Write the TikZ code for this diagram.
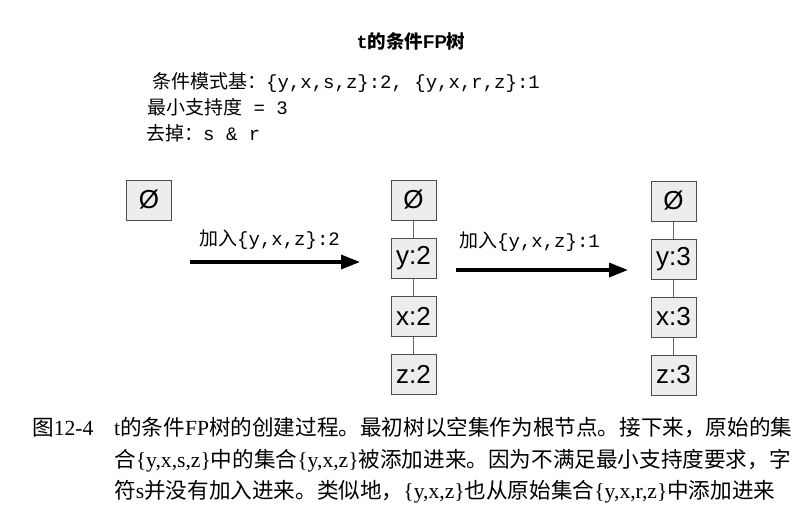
\documentclass[tikz,border=0pt]{standalone}
\usepackage{fontspec}
\setmainfont{Liberation Sans}
\setmonofont{Liberation Mono}
\newfontfamily\cjk{Noto Sans CJK SC}
\newfontfamily\serifl{Liberation Serif}
\usetikzlibrary{arrows.meta,positioning}
\XeTeXlinebreaklocale "zh"
\XeTeXlinebreakskip=0pt plus 3pt
\tikzset{
  >={Triangle[length=19pt,width=14pt]},
  item/.style={draw=black!70, line width=1pt, fill=gray!14, minimum width=45pt, minimum height=40pt, inner sep=0pt, font=\fontsize{26}{26}\selectfont},
  link/.style={draw=black!60, line width=0.8pt},
  addarrow/.style={->, line width=3.5pt},
  info/.style={anchor=west, inner sep=0pt, font=\fontsize{19}{19}\selectfont},
  addlabel/.style={anchor=west, inner sep=0pt, font=\fontsize{19}{19}\selectfont},
  captext/.style={anchor=west, inner sep=0pt, font=\fontsize{21.6}{22}\selectfont\cjk},
}

\begin{document}
\begin{tikzpicture}[x=1pt, y=-1pt, node distance=17pt]
  \path[use as bounding box, fill=white] (0,0) rectangle (802,511);
  % title and the conditional pattern base
  \node[inner sep=0pt, font=\fontsize{18.5}{18.5}\selectfont] (title) at (411,41)
    {{\ttfamily\bfseries t}{\cjk\bfseries 的条件}{\bfseries FP}{\cjk\bfseries 树}};
  \node[info] (base) at (152,82) {{\cjk 条件模式基：}{\ttfamily\{y,x,s,z\}:2, \{y,x,r,z\}:1}};
  \node[info] (minsup) at (147,107) {{\cjk 最小支持度}{\ttfamily{} = 3}};
  \node[info] (drop) at (146,133) {{\cjk 去掉：}{\ttfamily s \& r}};
  % three stages of the tree
  \node[item] (e1) at (149,200) {Ø};
  \node[item] (e2) at (413.5,200) {Ø};
  \node[item, below=of e2] (y2) {y:2};
  \node[item, below=of y2] (x2) {x:2};
  \node[item, below=of x2] (z2) {z:2};
  \node[item] (e3) at (673.5,201) {Ø};
  \node[item, below=of e3] (y3) {y:3};
  \node[item, below=of y3] (x3) {x:3};
  \node[item, below=of x3] (z3) {z:3};
  \draw[link] (e2) -- (y2) (y2) -- (x2) (x2) -- (z2);
  \draw[link] (e3) -- (y3) (y3) -- (x3) (x3) -- (z3);
  % adding transactions
  \coordinate (a1s) at (190,262);
  \coordinate (a1e) at (360,262);
  \coordinate (a2s) at (456,270);
  \coordinate (a2e) at (628,270);
  \draw[addarrow] (a1s) -- (a1e);
  \draw[addarrow] (a2s) -- (a2e);
  \node[addlabel] (add1) at (199,240) {{\cjk 加入}{\ttfamily\{y,x,z\}:2}};
  \node[addlabel] (add2) at (459,242) {{\cjk 加入}{\ttfamily\{y,x,z\}:1}};
  % caption
  \node[captext] (fig) at (32,428) {图{\serifl 12-4}};
  \node[captext] (cap1) at (114,428) {\makebox[678pt][s]{{\serifl t}的条件{\serifl FP}树的创建过程。最初树以空集作为根节点。接下来，原始的集}};
  \node[captext] (cap2) at (114,461) {\makebox[678pt][s]{合{\serifl\{y,x,s,z\}}中的集合{\serifl\{y,x,z\}}被添加进来。因为不满足最小支持度要求，字}};
  \node[captext] (cap3) at (114,492) {符{\serifl s}并没有加入进来。类似地，{\serifl\{y,x,z\}}也从原始集合{\serifl\{y,x,r,z\}}中添加进来};
\end{tikzpicture}
\end{document}
